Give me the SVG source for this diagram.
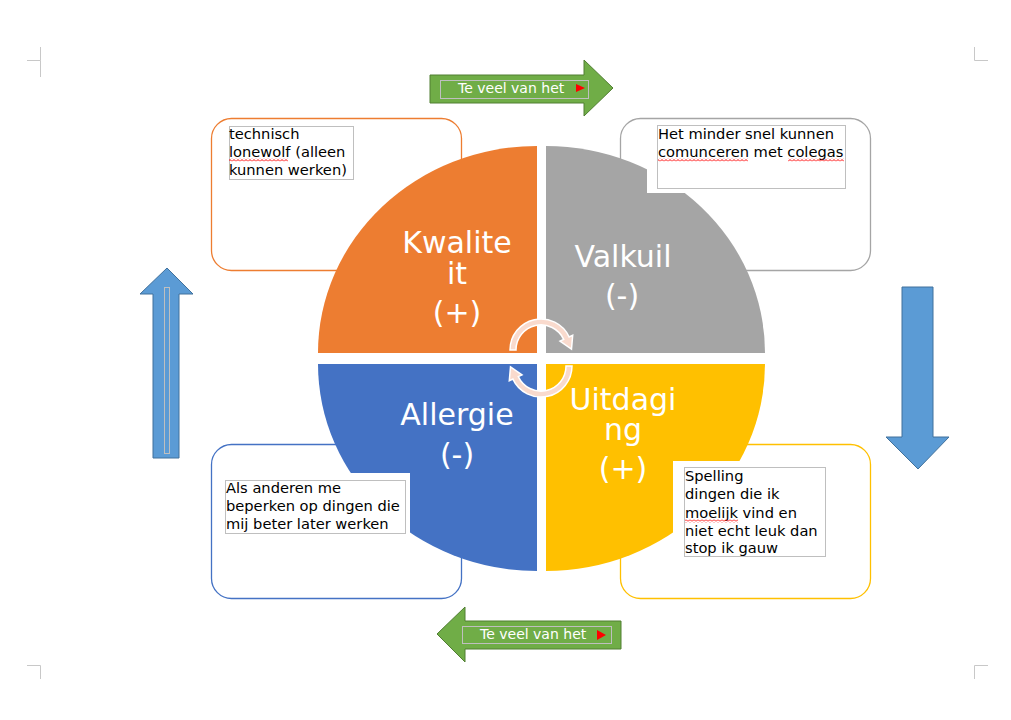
<svg xmlns="http://www.w3.org/2000/svg" width="1011" height="720" viewBox="0 0 1011 720">
<style>
  .box{fill:#fff;stroke-width:1.3}
  .frame{fill:none;stroke:#BFBFBF;stroke-width:1}
  .txt{font-family:"DejaVu Sans",Verdana,sans-serif;font-size:14.67px;fill:#000}
  .q{font-family:"DejaVu Sans",Verdana,sans-serif;font-size:30px;fill:#fff;text-anchor:middle}
  .gt{font-family:"DejaVu Sans",Verdana,sans-serif;font-size:14px;fill:#fff}
  .green{fill:#70AD47;stroke:#507E32;stroke-width:1}
  .blue{fill:#5B9BD5;stroke:#41719C;stroke-width:1}
  .cyc{fill:#F9DACD;stroke:#fff;stroke-width:1.5}
  .crop{stroke:#C8C8C8;stroke-width:1;fill:none}
  .wf{fill:#fff}
</style>
<defs>
  <pattern id="wave" width="4" height="3" patternUnits="userSpaceOnUse">
    <path d="M0 2.5 L2 0.5 L4 2.5" fill="none" stroke="#FF0000" stroke-width="1"/>
  </pattern>
</defs>
<rect width="1011" height="720" fill="#fff"/>

<g id="cropmarks">
  <path class="crop" d="M40.5 47 V60.5 H27 M40.5 60.5 V77"/>
  <path class="crop" d="M974.5 47 V60.5 H988"/>
  <path class="crop" d="M27 665.5 H40.5 V679"/>
  <path class="crop" d="M988 665.5 H974.5 V679"/>
</g>

<g id="box-tl"><rect class="box" x="211.5" y="118.5" width="250" height="152" rx="20" stroke="#ED7D31"/></g>
<g id="box-tr"><rect class="box" x="620.5" y="118.5" width="250" height="152" rx="20" stroke="#A5A5A5"/></g>
<g id="box-bl"><rect class="box" x="211.5" y="444.5" width="250" height="154" rx="20" stroke="#4472C4"/></g>
<g id="box-br"><rect class="box" x="620.5" y="444.5" width="250" height="154" rx="20" stroke="#FFC000"/></g>

<g id="q-kwaliteit">
  <path d="M537 353 L318 353 A219 207 0 0 1 537 146 Z" fill="#ED7D31"/>
</g>
<g id="q-valkuil">
  <path d="M546 353 L546 146 A219 207 0 0 1 765 353 Z" fill="#A5A5A5"/>
</g>
<g id="q-allergie">
  <path d="M537 364 L537 571 A219 207 0 0 1 318 364 Z" fill="#4472C4"/>
</g>
<g id="q-uitdaging">
  <path d="M546 364 L765 364 A219 207 0 0 1 546 571 Z" fill="#FFC000"/>
</g>

<!-- text box fills -->
<rect class="wf" x="647" y="121" width="208" height="72"/>
<rect class="wf" x="216" y="473" width="194" height="68"/>
<rect class="wf" x="673" y="461" width="162" height="104"/>

<g id="labels">
  <text class="q" x="457" y="253">Kwalite<tspan x="457" dy="31">it</tspan><tspan x="457" dy="39">(+)</tspan></text>
  <text class="q" x="623" y="267">Valkuil<tspan x="622" dy="39">(-)</tspan></text>
  <text class="q" x="457" y="425">Allergie<tspan x="457" dy="40">(-)</tspan></text>
  <text class="q" x="623" y="410">Uitdagi<tspan x="623" dy="30">ng</tspan><tspan x="623" dy="39">(+)</tspan></text>
</g>

<g id="connectors">
  <path class="cyc" d="M510 350 A31 31 0 0 1 569.1 336.9 L572.7 335.2 L571.5 349.1 L560 341.1 L563.7 339.4 A25 25 0 0 0 516 350 Z"/>
  <path class="cyc" d="M572 366 A31 31 0 0 1 512.9 379.1 L509.3 380.8 L510.5 366.9 L522 374.9 L518.3 376.6 A25 25 0 0 0 566 366 Z"/>
</g>

<g id="text-tl">
  <rect class="frame" x="229.5" y="126.5" width="124" height="53"/>
  <text class="txt" x="229" y="139">technisch</text>
  <text class="txt" x="229" y="157">lonewolf (alleen</text>
  <text class="txt" x="229" y="175">kunnen werken)</text>
  <rect x="229" y="158.5" width="59" height="3" fill="url(#wave)"/>
</g>
<g id="text-tr">
  <rect class="frame" x="657.5" y="125.5" width="188" height="63"/>
  <text class="txt" x="658" y="139">Het minder snel kunnen</text>
  <text class="txt" x="658" y="157">comunceren met colegas</text>
  <rect x="658" y="158.5" width="90" height="3" fill="url(#wave)"/>
  <rect x="788" y="158.5" width="56" height="3" fill="url(#wave)"/>
</g>
<g id="text-bl">
  <rect class="frame" x="225.5" y="480.5" width="180" height="53"/>
  <text class="txt" x="226" y="493">Als anderen me</text>
  <text class="txt" x="226" y="511">beperken op dingen die</text>
  <text class="txt" x="226" y="529">mij beter later werken</text>
</g>
<g id="text-br">
  <rect class="frame" x="684.5" y="467.5" width="141" height="89"/>
  <text class="txt" x="685" y="481">Spelling</text>
  <text class="txt" x="685" y="499">dingen die ik</text>
  <text class="txt" x="685" y="518">moelijk vind en</text>
  <text class="txt" x="685" y="536">niet echt leuk dan</text>
  <text class="txt" x="685" y="553">stop ik gauw</text>
  <rect x="685" y="519.5" width="53" height="3" fill="url(#wave)"/>
</g>

<g id="arrow-top">
  <polygon class="green" points="430,75 584,75 584,60 613,88 584,116 584,103 430,103"/>
  <rect class="frame" x="440.5" y="80.5" width="148" height="18"/>
  <text class="gt" x="458" y="93">Te veel van het</text>
  <polygon points="576,84 585,88 576,92" fill="#FF0000"/>
</g>
<g id="arrow-bottom">
  <polygon class="green" points="437,634 465,607 465,621 621,621 621,649 465,649 465,662"/>
  <rect class="frame" x="462.5" y="626.5" width="149" height="17"/>
  <text class="gt" x="480" y="639">Te veel van het</text>
  <polygon points="597,630 606,635 597,640" fill="#FF0000"/>
</g>
<g id="arrow-left">
  <polygon class="blue" points="167,268 193,294 179,294 179,458 153,458 153,294 140,294"/>
  <rect class="frame" x="164.5" y="287.5" width="5" height="166"/>
</g>
<g id="arrow-right">
  <polygon class="blue" points="902,287 933,287 933,437 949,437 918,469 886,437 902,437"/>
</g>
</svg>
